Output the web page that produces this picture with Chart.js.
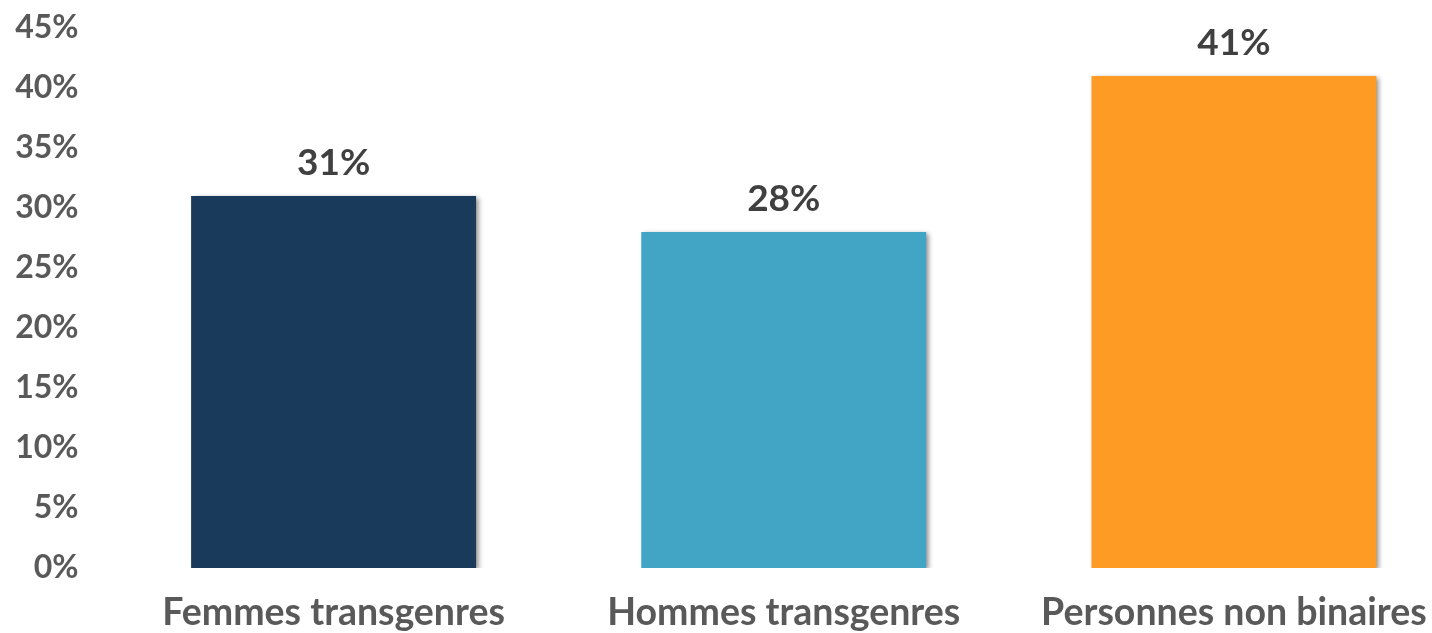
<!DOCTYPE html>
<html>
<head>
<meta charset="utf-8">
<script src="https://cdn.jsdelivr.net/npm/chart.js@4"></script>
<style>
  html, body { margin: 0; padding: 0; background: #fff; overflow: hidden; }
  #wrap { width: 1460px; height: 633px; position: relative; }
</style>
</head>
<body>
<div id="wrap"><canvas id="chart"></canvas></div>
<script>
const categories = ['Femmes transgenres', 'Hommes transgenres', 'Personnes non binaires']
const values = [31, 28, 41]
const barColors = ['#1a3a5c', '#42a5c5', '#fd9b24']
const yTicks = [0, 5, 10, 15, 20, 25, 30, 35, 40, 45]

// soft shadow on the right/bottom of each bar
const barShadow = {
    id: 'barShadow',
    beforeDatasetsDraw(chart) {
        const ctx = chart.ctx
        ctx.save()
        ctx.shadowColor = 'rgba(0,0,0,0.45)'
        ctx.shadowBlur = 5
        ctx.shadowOffsetX = 3
        ctx.shadowOffsetY = 2
    },
    afterDatasetsDraw(chart) {
        chart.ctx.restore()
    }
}

// value labels above bars
const valueLabels = {
    id: 'valueLabels',
    afterDatasetsDraw(chart) {
        const ctx = chart.ctx
        const meta = chart.getDatasetMeta(0)
        ctx.save()
        ctx.font = 'bold 37px Lato'
        ctx.fillStyle = '#404040'
        ctx.textAlign = 'center'
        ctx.textBaseline = 'alphabetic'
        meta.data.forEach((bar, i) => {
            ctx.fillText(values[i] + '%', bar.x, bar.y - 21)
        })
        ctx.restore()
    }
}

new Chart(document.getElementById('chart'), {
    type: 'bar',
    data: {
        labels: categories,
        datasets: [{
            data: values,
            backgroundColor: barColors,
            borderWidth: 0,
            barPercentage: 0.633,
            categoryPercentage: 1
        }]
    },
    options: {
        responsive: true,
        maintainAspectRatio: false,
        animation: false,
        layout: { padding: { top: 28, left: 0, right: 1 } },
        plugins: {
            legend: { display: false },
            tooltip: { enabled: false }
        },
        scales: {
            x: {
                grid: { display: false, drawTicks: false },
                border: { display: false },
                afterFit(axis) {
                    axis.height = 65
                },
                ticks: {
                    color: '#595959',
                    font: { family: 'Lato', weight: 'bold', size: 37.5 },
                    padding: 22,
                    maxRotation: 0,
                    autoSkip: false
                }
            },
            y: {
                min: 0,
                max: 45,
                afterBuildTicks(axis) {
                    axis.ticks = yTicks.map(v => ({ value: v }))
                },
                afterFit(axis) {
                    axis.width = 108.5
                    axis.paddingTop = 0
                    axis.paddingBottom = 0
                },
                grid: { display: false, drawTicks: false },
                border: { display: false },
                ticks: {
                    color: '#595959',
                    font: { family: 'Lato', weight: 'bold', size: 32 },
                    padding: 30,
                    callback: v => v + '%'
                }
            }
        }
    },
    plugins: [barShadow, valueLabels]
})
</script>
</body>
</html>
